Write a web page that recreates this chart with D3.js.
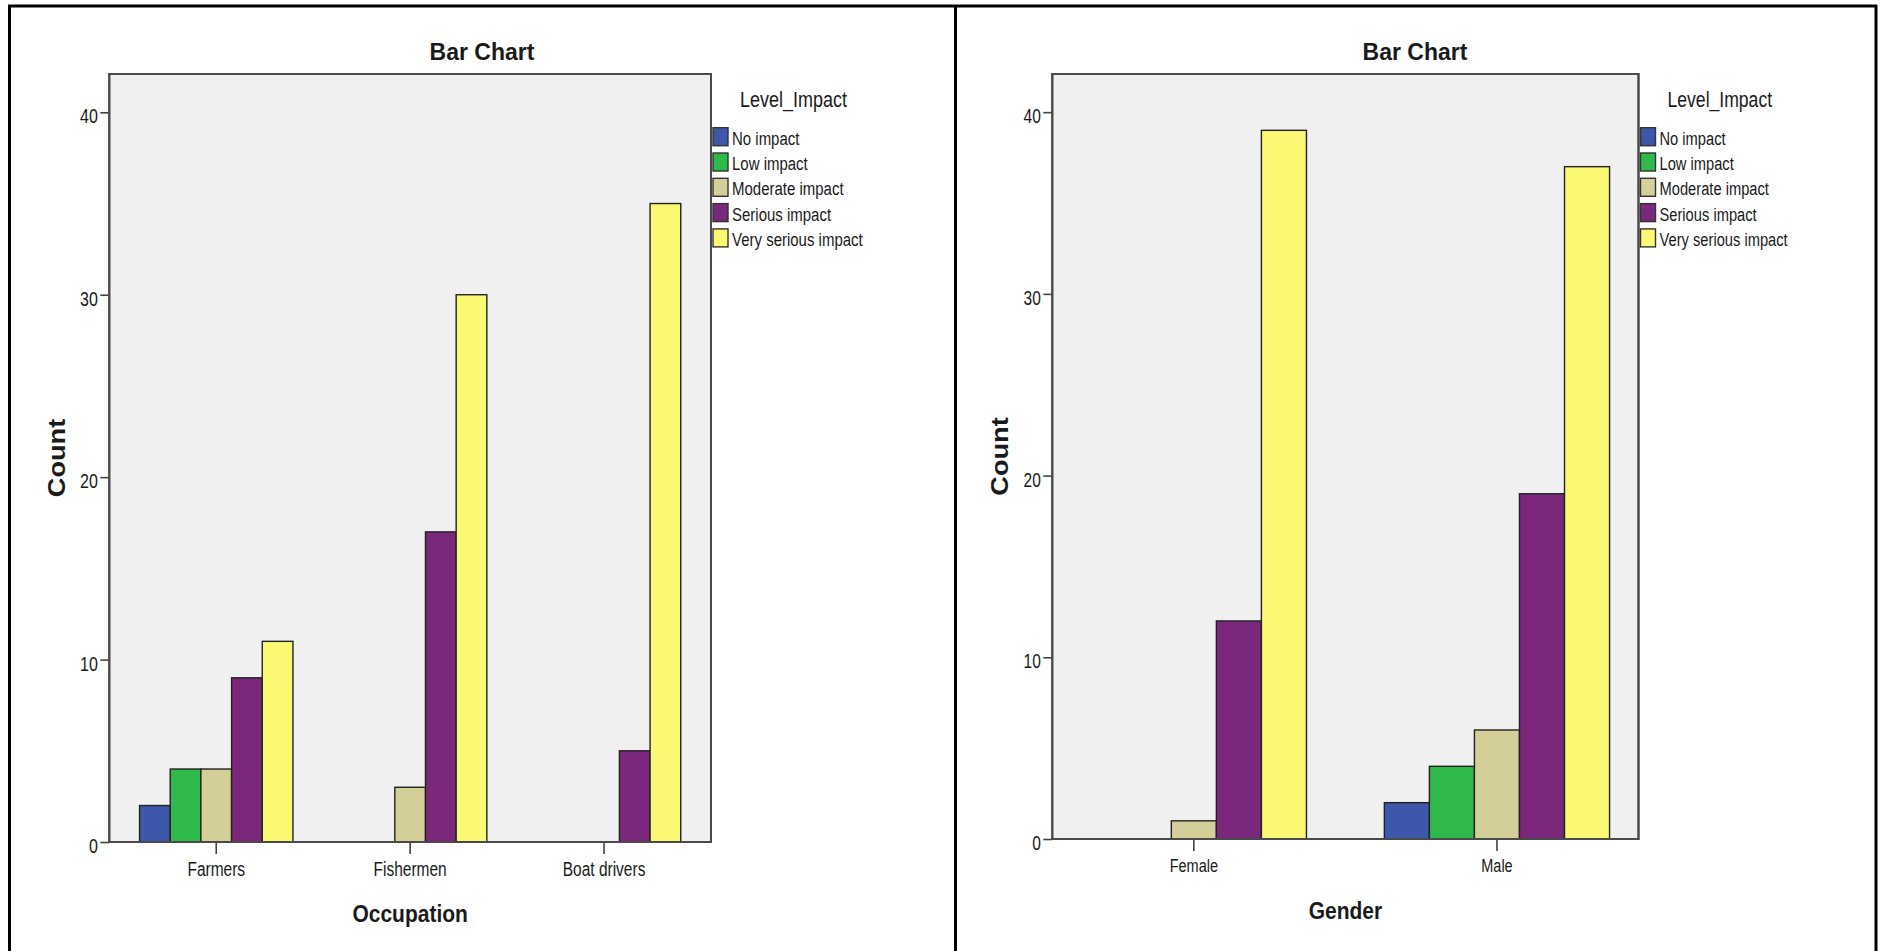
<!DOCTYPE html>
<html><head><meta charset="utf-8">
<script src="https://cdn.jsdelivr.net/npm/d3@7"></script>
<style>
body{margin:0;background:#fff;}
svg{display:block;}
text{font-family:"Liberation Sans", Arial, sans-serif; fill:#1a1a1a;}
</style>
</head><body>
<svg id="c" width="1880" height="951"></svg>
<script>
// ---------- data ----------
const levels = ["No impact", "Low impact", "Moderate impact", "Serious impact", "Very serious impact"];
const levelColors = ["#3D57AB", "#2FB94A", "#D4CF98", "#7B277C", "#FBF874"];

const occupationCategories = ["Farmers", "Fishermen", "Boat drivers"];
const occNoImpact = [2, 0, 0];
const occLowImpact = [4, 0, 0];
const occModerateImpact = [4, 3, 0];
const occSeriousImpact = [9, 17, 5];
const occVerySeriousImpact = [11, 30, 35];

const genderCategories = ["Female", "Male"];
const genNoImpact = [0, 2];
const genLowImpact = [0, 4];
const genModerateImpact = [1, 6];
const genSeriousImpact = [12, 19];
const genVerySeriousImpact = [39, 37];

const yTicks = [0, 10, 20, 30, 40];
const yMax = 42.1;

const chartTitle = "Bar Chart";
const yTitle = "Count";
const legendTitle = "Level_Impact";

// ---------- drawing ----------
const svg = d3.select("#c");

// outer table frame
const frame = svg.append("g").attr("stroke", "#000").attr("stroke-width", 3);
frame.append("line").attr("x1", 8).attr("x2", 1877).attr("y1", 6).attr("y2", 6);
[9.5, 955.5, 1876].forEach(x => frame.append("line").attr("x1", x).attr("x2", x).attr("y1", 5).attr("y2", 951));

function txt(g, x, y, s, o) {
  const t = g.append("text")
    .attr("transform", `translate(${x},${y}) scale(1,${o.sy || 1})${o.rotate ? ` rotate(${o.rotate})` : ""}`)
    .attr("text-anchor", o.anchor || "start")
    .style("font-size", o.size + "px")
    .style("font-weight", o.weight || "normal")
    .text(s);
  return t;
}

function drawChart(cfg) {
  const g = svg.append("g");
  const series = cfg.series;

  const y = d3.scaleLinear().domain([0, yMax]).range([cfg.bottom, cfg.top]);
  const x0 = d3.scaleBand().domain(cfg.categories).range([cfg.left, cfg.right])
    .paddingInner(0).paddingOuter(cfg.padOuter);
  const groupW = x0.bandwidth() * cfg.groupFrac;
  const x1 = d3.scaleBand().domain(levels).range([0, groupW]).padding(0);
  const color = d3.scaleOrdinal().domain(levels).range(levelColors);

  // plot background
  g.append("rect").attr("x", cfg.left).attr("y", cfg.top)
    .attr("width", cfg.right - cfg.left).attr("height", cfg.bottom - cfg.top)
    .attr("fill", "#F0F0F0").attr("stroke", "#4a4a4a").attr("stroke-width", 2);

  // bars
  const rows = [];
  cfg.categories.forEach((c, i) => {
    levels.forEach((l, j) => {
      const v = series[j][i];
      if (v > 0) rows.push({ c, l, v });
    });
  });
  g.append("g").selectAll("rect").data(rows).join("rect")
    .attr("x", d => x0(d.c) + (x0.bandwidth() - groupW) / 2 + x1(d.l))
    .attr("y", d => y(d.v))
    .attr("width", x1.bandwidth())
    .attr("height", d => y(0) - y(d.v))
    .attr("fill", d => color(d.l))
    .attr("stroke", "#222").attr("stroke-width", 1.4);

  // y axis
  const yAxis = g.append("g").attr("transform", `translate(${cfg.left},0)`)
    .call(d3.axisLeft(y).tickValues(yTicks).tickSize(9).tickPadding(2).tickFormat(d3.format("d")));
  yAxis.select(".domain").remove();
  yAxis.selectAll(".tick line").attr("stroke", "#444").attr("stroke-width", 1.6);
  yAxis.selectAll(".tick text")
    .attr("x", -11.5).attr("dy", null).attr("y", 10.5 / 1.25)
    .attr("transform", "scale(1,1.25)")
    .style("font-size", cfg.tickSize + "px").attr("fill", "#1a1a1a");

  // x axis
  const xAxis = g.append("g").attr("transform", `translate(0,${cfg.bottom})`)
    .call(d3.axisBottom(x0).tickSize(12).tickPadding(2));
  xAxis.select(".domain").remove();
  xAxis.selectAll(".tick line").attr("stroke", "#444").attr("stroke-width", 1.6);
  xAxis.selectAll(".tick text")
    .attr("dy", null).attr("y", cfg.catBase / 1.25)
    .attr("transform", "scale(1,1.25)")
    .style("font-size", cfg.catSize + "px").attr("fill", "#1a1a1a");

  // frame lines on top
  g.append("rect").attr("x", cfg.left).attr("y", cfg.top)
    .attr("width", cfg.right - cfg.left).attr("height", cfg.bottom - cfg.top)
    .attr("fill", "none").attr("stroke", "#4a4a4a").attr("stroke-width", 2);

  // titles
  txt(g, cfg.titleX, 60, chartTitle, { size: 23, weight: "bold", anchor: "middle", sy: 1.0 });
  txt(g, (cfg.left + cfg.right) / 2, cfg.xTitleBase, cfg.xTitle, { size: 21, weight: "bold", anchor: "middle", sy: 1.12 });
  txt(g, cfg.left - 44, (cfg.top + cfg.bottom) / 2, yTitle, { size: 23, weight: "bold", anchor: "middle", sy: 1.18, rotate: -90 });

  // legend
  const lx = cfg.right + 2;
  txt(g, lx + 27, 107, legendTitle, { size: cfg.legTitleSize, sy: 1.21 });
  const lg = g.append("g").selectAll("g").data(levels).join("g")
    .attr("transform", (d, i) => `translate(${lx},${127.7 + i * 25.3})`);
  lg.append("rect").attr("width", 15).attr("height", 18)
    .attr("fill", d => color(d)).attr("stroke", "#333").attr("stroke-width", 1.4);
  lg.each(function (d) {
    txt(d3.select(this), 19, 17, d, { size: cfg.legSize, sy: 1.24 });
  });
}

drawChart({
  categories: occupationCategories,
  series: [occNoImpact, occLowImpact, occModerateImpact, occSeriousImpact, occVerySeriousImpact],
  xTitle: "Occupation",
  left: 109.3, right: 711, top: 74, bottom: 842,
  padOuter: 0.0515, groupFrac: 0.791,
  titleX: 482, xTitleBase: 922, catBase: 34, catSize: 15.5, tickSize: 16,
  legTitleSize: 18, legSize: 15
});

drawChart({
  categories: genderCategories,
  series: [genNoImpact, genLowImpact, genModerateImpact, genSeriousImpact, genVerySeriousImpact],
  xTitle: "Gender",
  left: 1052.3, right: 1638.5, top: 74, bottom: 839,
  padOuter: -0.033, groupFrac: 0.743,
  titleX: 1415, xTitleBase: 919, catBase: 33, catSize: 14.5, tickSize: 15.5,
  legTitleSize: 17.6, legSize: 14.7
});
</script>
</body></html>
